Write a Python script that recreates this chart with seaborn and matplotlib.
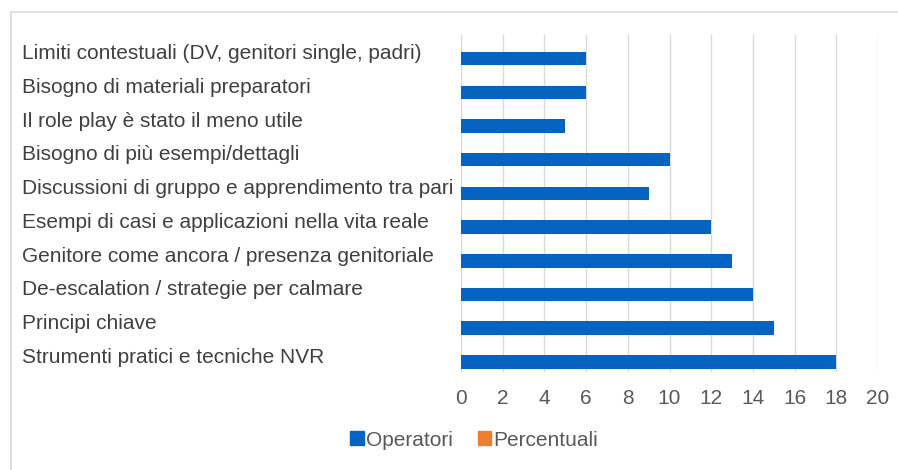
import pandas as pd
import matplotlib.pyplot as plt
import seaborn as sns
from matplotlib.patches import Patch, Rectangle

# categories top to bottom as shown
categories = [
    "Limiti contestuali (DV, genitori single, padri)",
    "Bisogno di materiali preparatori",
    "Il role play è stato il meno utile",
    "Bisogno di più esempi/dettagli",
    "Discussioni di gruppo e apprendimento tra pari",
    "Esempi di casi e applicazioni nella vita reale",
    "Genitore come ancora / presenza genitoriale",
    "De-escalation / strategie per calmare",
    "Principi chiave",
    "Strumenti pratici e tecniche NVR",
]
operatori = [6, 6, 5, 10, 9, 12, 13, 14, 15, 18]
percentuali = [0, 0, 0, 0, 0, 0, 0, 0, 0, 0]
x_ticks = [0, 2, 4, 6, 8, 10, 12, 14, 16, 18, 20]

blue = "#0563C1"
orange = "#ED7D31"

df = pd.concat([
    pd.DataFrame({"cat": categories, "val": percentuali, "serie": "Percentuali"}),
    pd.DataFrame({"cat": categories, "val": operatori, "serie": "Operatori"}),
])

sns.set_style("white")
plt.rcParams["font.family"] = ["Liberation Sans", "DejaVu Sans"]

fig = plt.figure(figsize=(8.98, 4.70), dpi=100)
ax = fig.add_axes([461 / 898, 1 - 372 / 470, (878 - 461) / 898, (372 - 35) / 470])

sns.barplot(data=df, x="val", y="cat", hue="serie", order=categories,
            hue_order=["Percentuali", "Operatori"],
            palette={"Operatori": blue, "Percentuali": orange},
            width=0.8, linewidth=0, saturation=1, legend=False, ax=ax)

ax.set_xlim(0, 20)
ax.set_xticks(x_ticks)
ax.set_xlabel("")
ax.set_ylabel("")
ax.grid(axis="x", color="#D9D9D9", linewidth=1)
ax.grid(axis="y", visible=False)
ax.set_axisbelow(True)
for s in ax.spines.values():
    s.set_visible(False)

ax.tick_params(axis="x", length=0, pad=12, labelsize=15, labelcolor="#595959")
ax.tick_params(axis="y", length=0, pad=316, labelsize=15, labelcolor="#404040")
for t in ax.get_yticklabels():
    t.set_horizontalalignment("left")

handles = [Patch(color=blue, label="Operatori"), Patch(color=orange, label="Percentuali")]
fig.legend(handles=handles, loc="center", bbox_to_anchor=(474 / 898, 1 - 440 / 470),
           ncol=2, frameon=False, fontsize=15, handlelength=0.65, handleheight=0.65,
           handletextpad=0.1, columnspacing=1.2, labelcolor="#595959")

fig.patches.append(Rectangle((11 / 898, -0.1), 1.1, 1 - 12 / 470 + 0.1,
                             transform=fig.transFigure, fill=False,
                             edgecolor="#D9D9D9", linewidth=1.2))

fig.savefig("out.png", dpi=100)
